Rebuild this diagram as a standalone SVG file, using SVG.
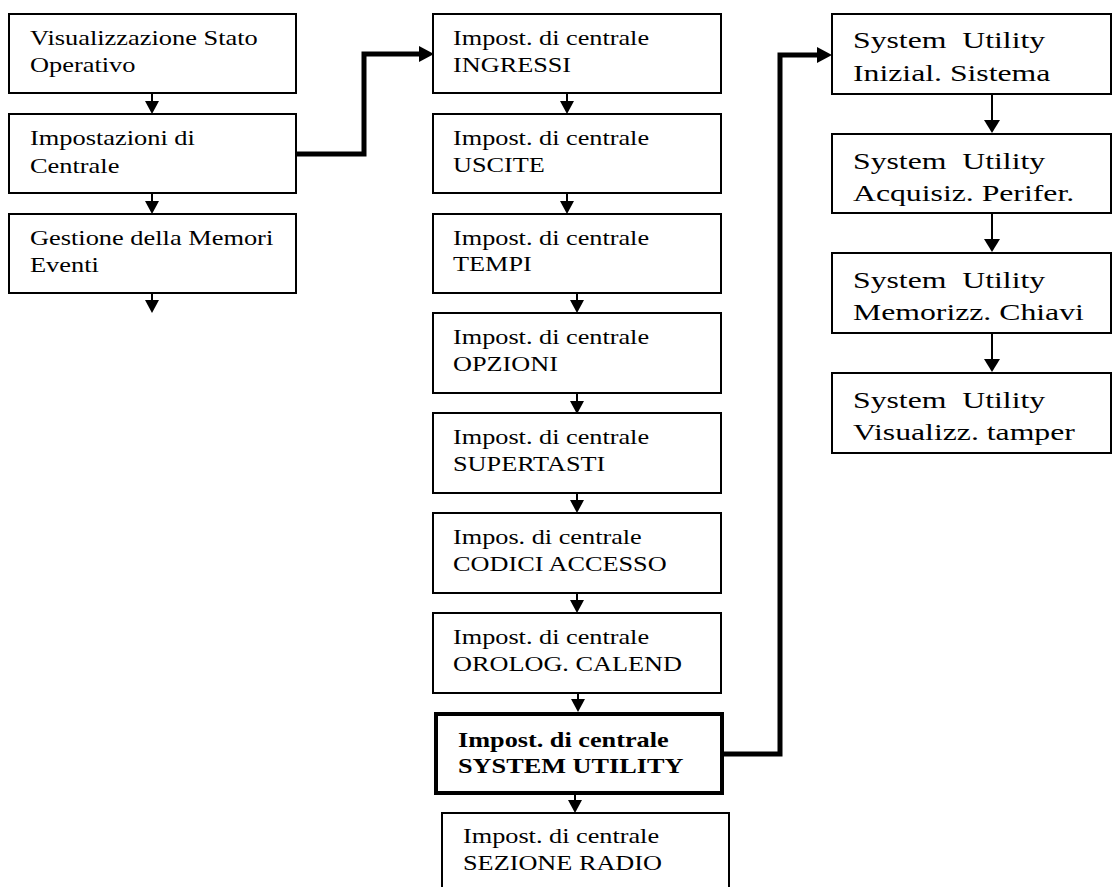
<svg xmlns="http://www.w3.org/2000/svg" width="1113" height="887" viewBox="0 0 1113 887">
<defs>
<style>
.box{fill:#fff;stroke:#000;stroke-width:2}
.boxb{fill:#fff;stroke:#000;stroke-width:4}
.t{font-family:"Liberation Serif","Times New Roman",serif;fill:#000}
.tl{font-size:22px}
.tm{font-size:21px}
.tr{font-size:23px;white-space:pre}
.tb{font-size:21px;font-weight:bold}
.thin{fill:none;stroke:#000;stroke-width:2}
.thick{fill:none;stroke:#000;stroke-width:5}
</style>
<marker id="ah" markerUnits="userSpaceOnUse" markerWidth="14" markerHeight="16" refX="0" refY="7" orient="auto" viewBox="0 0 14 14">
<path d="M0,0 L13,7 L0,14 z" fill="#000"/>
</marker>
<marker id="ahr" markerUnits="userSpaceOnUse" markerWidth="14" markerHeight="18" refX="0" refY="8" orient="auto" viewBox="0 0 14 16">
<path d="M0,0 L13,8 L0,16 z" fill="#000"/>
</marker>
<marker id="ahk" markerUnits="userSpaceOnUse" markerWidth="16" markerHeight="18" refX="0" refY="8" orient="auto" viewBox="0 0 16 16">
<path d="M0,0 L15,8 L0,16 z" fill="#000"/>
</marker>
</defs>
<rect width="1113" height="887" fill="#fff"/>

<g id="connectors">
<path class="thin" d="M152,90 V101" marker-end="url(#ah)"/>
<path class="thin" d="M152,190 V201" marker-end="url(#ah)"/>
<path class="thin" d="M152,290 V300" marker-end="url(#ah)"/>
<path class="thin" d="M567,90 V101" marker-end="url(#ah)"/>
<path class="thin" d="M567,190 V201" marker-end="url(#ah)"/>
<path class="thin" d="M577,290 V300" marker-end="url(#ah)"/>
<path class="thin" d="M577,390 V401" marker-end="url(#ah)"/>
<path class="thin" d="M577,490 V500" marker-end="url(#ah)"/>
<path class="thin" d="M577,590 V600" marker-end="url(#ah)"/>
<path class="thin" d="M578,690 V699" marker-end="url(#ah)"/>
<path class="thin" d="M575,793 V800" marker-end="url(#ah)"/>
<path class="thin" d="M992,94 V120" marker-end="url(#ahr)"/>
<path class="thin" d="M992,213 V239" marker-end="url(#ahr)"/>
<path class="thin" d="M992,333 V359" marker-end="url(#ahr)"/>
<path class="thick" d="M290,154 H364 V54 H419" marker-end="url(#ahk)"/>
<path class="thick" d="M724,754 H780 V55 H817" marker-end="url(#ahk)"/>
</g>

<g id="n1"><rect class="box" x="9" y="14" width="287" height="79"/>
<text class="t tl" transform="translate(30,45) scale(1.2,1)">Visualizzazione Stato</text>
<text class="t tl" transform="translate(30,72) scale(1.2,1)">Operativo</text></g>
<g id="n2"><rect class="box" x="9" y="114" width="287" height="79"/>
<text class="t tl" transform="translate(30,145) scale(1.2,1)">Impostazioni di</text>
<text class="t tl" transform="translate(30,173) scale(1.2,1)">Centrale</text></g>
<g id="n3"><rect class="box" x="9" y="214" width="287" height="79"/>
<text class="t tl" transform="translate(30,245) scale(1.2,1)">Gestione della Memori</text>
<text class="t tl" transform="translate(30,272) scale(1.2,1)">Eventi</text></g>

<g id="m1"><rect class="box" x="433" y="14" width="288" height="79"/>
<text class="t tm" transform="translate(453,45) scale(1.25,1)">Impost. di centrale</text>
<text class="t tm" transform="translate(453,72) scale(1.25,1)">INGRESSI</text></g>
<g id="m2"><rect class="box" x="433" y="114" width="288" height="79"/>
<text class="t tm" transform="translate(453,145) scale(1.25,1)">Impost. di centrale</text>
<text class="t tm" transform="translate(453,172) scale(1.25,1)">USCITE</text></g>
<g id="m3"><rect class="box" x="433" y="214" width="288" height="79"/>
<text class="t tm" transform="translate(453,245) scale(1.25,1)">Impost. di centrale</text>
<text class="t tm" transform="translate(453,271) scale(1.25,1)">TEMPI</text></g>
<g id="m4"><rect class="box" x="433" y="313" width="288" height="80"/>
<text class="t tm" transform="translate(453,344) scale(1.25,1)">Impost. di centrale</text>
<text class="t tm" transform="translate(453,371) scale(1.25,1)">OPZIONI</text></g>
<g id="m5"><rect class="box" x="433" y="413" width="288" height="80"/>
<text class="t tm" transform="translate(453,444) scale(1.25,1)">Impost. di centrale</text>
<text class="t tm" transform="translate(453,471) scale(1.25,1)">SUPERTASTI</text></g>
<g id="m6"><rect class="box" x="433" y="513" width="288" height="80"/>
<text class="t tm" transform="translate(453,544) scale(1.25,1)">Impos. di centrale</text>
<text class="t tm" transform="translate(453,571) scale(1.25,1)">CODICI ACCESSO</text></g>
<g id="m7"><rect class="box" x="433" y="613" width="288" height="80"/>
<text class="t tm" transform="translate(453,644) scale(1.25,1)">Impost. di centrale</text>
<text class="t tm" transform="translate(453,671) scale(1.25,1)">OROLOG. CALEND</text></g>
<g id="m8"><rect class="boxb" x="436" y="714" width="286" height="79"/>
<text class="t tb" transform="translate(458,747) scale(1.25,1)">Impost. di centrale</text>
<text class="t tb" transform="translate(458,773) scale(1.25,1)">SYSTEM UTILITY</text></g>
<g id="m9"><rect class="box" x="442" y="813" width="287" height="90"/>
<text class="t tm" transform="translate(463,843) scale(1.25,1)">Impost. di centrale</text>
<text class="t tm" transform="translate(463,870) scale(1.25,1)">SEZIONE RADIO</text></g>

<g id="r1"><rect class="box" x="832" y="14" width="279" height="80"/>
<text class="t tr" transform="translate(853,48) scale(1.38,1)">System  Utility</text>
<text class="t tr" transform="translate(853,81) scale(1.38,1)">Inizial. Sistema</text></g>
<g id="r2"><rect class="box" x="832" y="134" width="279" height="79"/>
<text class="t tr" transform="translate(853,169) scale(1.38,1)">System  Utility</text>
<text class="t tr" transform="translate(853,201) scale(1.38,1)">Acquisiz. Perifer.</text></g>
<g id="r3"><rect class="box" x="832" y="253" width="279" height="80"/>
<text class="t tr" transform="translate(853,288) scale(1.38,1)">System  Utility</text>
<text class="t tr" transform="translate(853,320) scale(1.38,1)">Memorizz. Chiavi</text></g>
<g id="r4"><rect class="box" x="832" y="373" width="279" height="80"/>
<text class="t tr" transform="translate(853,408) scale(1.38,1)">System  Utility</text>
<text class="t tr" transform="translate(853,440) scale(1.38,1)">Visualizz. tamper</text></g>
</svg>
